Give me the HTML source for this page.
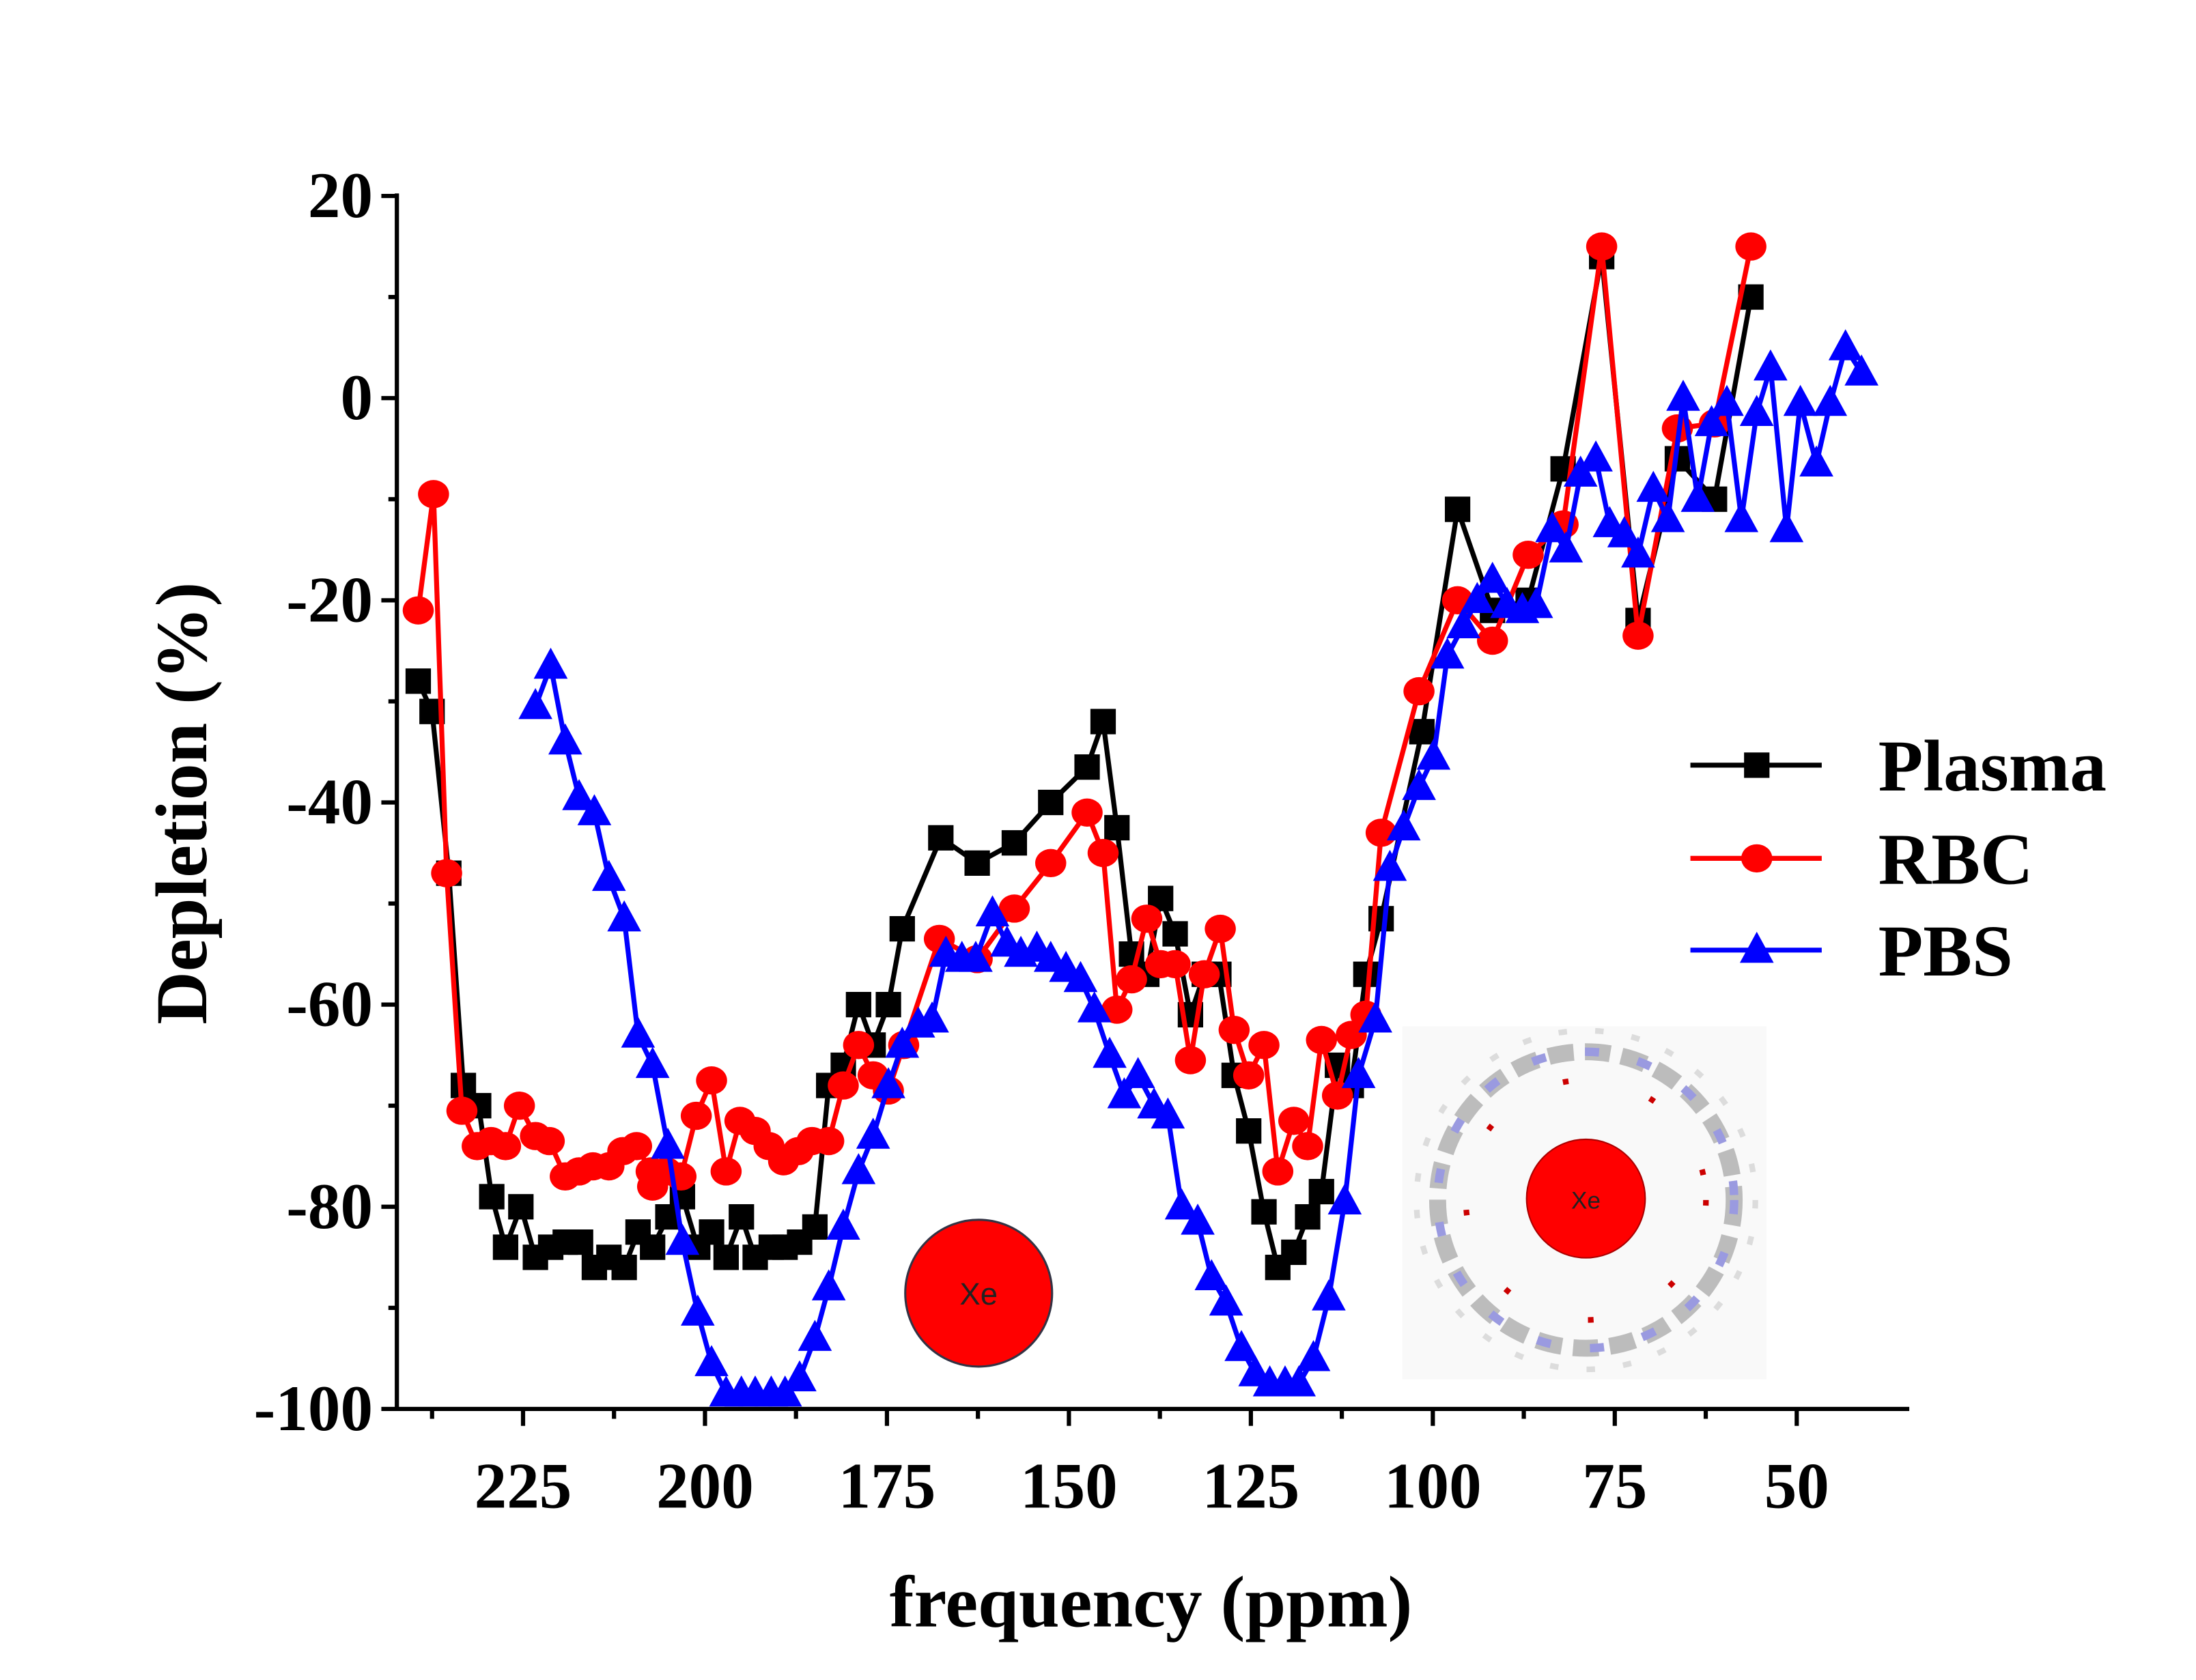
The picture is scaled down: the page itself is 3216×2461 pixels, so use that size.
<!DOCTYPE html>
<html><head><meta charset="utf-8"><style>
html,body{margin:0;padding:0;background:#fff;}
svg{display:block;}
text{font-family:"Liberation Serif",serif;font-weight:bold;}
</style></head><body>
<svg id="chart" width="3216" height="2461" viewBox="0 0 1555 1190" xmlns="http://www.w3.org/2000/svg">
<rect width="1555" height="1190" fill="#fff"/>
<g id="inset">
  <rect x="993" y="727" width="258" height="250" fill="#f9f9f9"/>
  <circle cx="1123" cy="850" r="105" fill="none" stroke="#bcbcbc" stroke-width="12" stroke-dasharray="18 8"/>
  <circle cx="1123" cy="850" r="105" fill="none" stroke="#9a9ae0" stroke-width="6" stroke-dasharray="10 28"/>
  <circle cx="1123" cy="850" r="120" fill="none" stroke="#dcdcdc" stroke-width="4" stroke-dasharray="6 20"/>
  <circle cx="1123" cy="850" r="85" fill="none" stroke="#c00" stroke-width="4" stroke-dasharray="4 60"/>
  <circle cx="1123" cy="849" r="42" fill="#f00" stroke="#a00" stroke-width="1"/>
  <text x="1123" y="856" text-anchor="middle" font-size="17" style="font-family:'Liberation Sans',sans-serif;font-weight:normal" fill="#222">Xe</text>
</g>
<g>
  <circle cx="693" cy="916" r="52" fill="#f00" stroke="#334" stroke-width="1.5"/>
  <text x="693" y="924" text-anchor="middle" font-size="22" style="font-family:'Liberation Sans',sans-serif;font-weight:normal" fill="#222">Xe</text>
</g>
<g id="axes"></g>
<g id="series"></g>
<g id="legend"></g>
</svg>
<script>
const plasmaX=[239.4,237.5,235.2,233.2,231.1,229.3,227.4,225.3,223.3,221.2,219.2,217.1,215.2,213.2,211.1,209.2,207.2,205.1,203.1,201.0,199.1,197.1,195.0,193.1,190.9,189.0,187.0,184.9,183.0,181.0,178.9,176.9,174.8,172.9,167.6,162.6,157.5,152.5,147.5,145.3,143.4,141.4,139.3,137.4,135.4,133.3,131.4,129.4,127.3,125.3,123.2,121.3,119.1,117.2,115.3,113.1,111.2,109.2,107.1,101.5,96.6,91.8,86.9,82.1,76.8,71.8,66.4,61.3,56.3];
const plasmaY=[-28,-31,-47,-68,-70,-79,-84,-80,-85,-84,-83.5,-83.5,-86,-85,-86,-82.5,-84,-81,-79,-84,-82.5,-85,-81,-85,-84,-84,-83.5,-82,-68,-66,-60,-64,-60,-52.5,-43.5,-46,-44,-40,-36.5,-32,-42.5,-55,-57,-49.5,-53,-61,-57,-57,-67,-72.5,-80.5,-86,-84.5,-81,-78.5,-66,-68,-57,-51.5,-33,-11,-21,-20,-7,14,-22,-6,-10,10];
const rbcX=[239.4,237.3,235.5,233.4,231.3,229.4,227.4,225.5,223.3,221.4,219.2,217.3,215.4,213.2,211.3,209.4,207.4,207.2,205.3,203.3,201.2,199.1,197.1,195.2,193.1,191.2,189.2,187.2,185.3,183.0,181.0,178.9,176.9,174.8,172.7,167.8,162.6,157.5,152.5,147.5,145.3,143.4,141.4,139.3,137.4,135.4,133.3,131.4,129.2,127.3,125.3,123.2,121.3,119.1,117.2,115.3,113.1,111.2,109.2,107.1,101.9,96.6,91.8,86.9,82.1,76.8,71.8,66.4,61.3,56.3];
const rbcY=[-21,-9.5,-47,-70.5,-74,-73.5,-74,-70,-73,-73.5,-77,-76.5,-76,-76,-74.5,-74,-76.5,-78,-76.5,-77,-71,-67.5,-76.5,-71.5,-72.5,-74,-75.5,-74.5,-73.5,-73.5,-68,-64,-67,-68.5,-64,-53.5,-55.5,-50.5,-46,-41,-45,-60.5,-57.5,-51.5,-56,-56,-65.5,-57,-52.5,-62.5,-67,-64,-76.5,-71.5,-74,-63.5,-69,-63,-61,-43,-29,-20,-24,-15.5,-12.5,15,-23.5,-3,-2.5,15];
const pbsX=[223.3,221.2,219.2,217.3,215.2,213.2,211.1,209.2,207.2,205.1,203.1,201.0,199.1,197.1,195.0,193.1,190.9,189.0,187.0,184.9,183.0,181.0,178.9,176.9,174.8,172.9,170.7,168.8,166.9,164.7,162.8,160.5,158.5,156.6,154.4,152.5,150.4,148.4,146.5,144.4,142.4,140.5,138.3,136.4,134.5,132.3,130.4,128.4,126.3,124.4,122.4,120.3,118.4,116.4,114.3,112.1,110.2,107.9,105.9,104.0,101.9,99.9,98.0,95.8,93.9,91.8,89.8,87.7,85.8,83.6,81.7,79.7,77.6,75.7,73.7,71.8,69.7,67.7,65.6,63.6,61.7,59.6,57.6,55.5,53.6,51.4,49.5,47.3,45.4,43.3,41.1];
const pbsY=[-30.5,-26.5,-34,-39.5,-41,-47.5,-51.5,-63,-66,-74,-83.5,-90.5,-95.5,-98.5,-98.5,-98.5,-98.5,-98.5,-97,-93,-88,-82,-76.5,-73,-68,-64,-62,-61.5,-55,-55.5,-55.5,-51,-54,-55,-54.5,-55.5,-56.5,-57.5,-60.5,-65,-69,-67,-70,-71,-80,-81.5,-87,-89.5,-94,-96.5,-97.5,-97.5,-97.5,-95,-89,-79.5,-67,-61.5,-46.5,-42.5,-38.5,-35.5,-25.5,-22.5,-20,-18,-20.5,-21,-20.5,-13,-15,-7.5,-6,-12.5,-13.5,-15.5,-9,-12,0,-10,-2.5,-0.5,-12,-1.5,3,-13,-0.5,-6.5,-0.5,5,2.5];
const yTicks=[20,0,-20,-40,-60,-80,-100];
const xTicks=[225,200,175,150,125,100,75,50];
const xMinor=[237.5,212.5,187.5,162.5,137.5,112.5,87.5,62.5];
const yMinor=[10,-10,-30,-50,-70,-90];

const NS="http://www.w3.org/2000/svg";
const sx=p=>1530-5.154*p;
const sy=v=>282-7.16*v;
function mk(tag,attrs,parent){const e=document.createElementNS(NS,tag);for(const k in attrs)e.setAttribute(k,attrs[k]);parent.appendChild(e);return e;}
const axes=document.getElementById('axes');
const yl=mk('line',{x1:281,y1:137,x2:281,y2:999.5,stroke:'#000','stroke-width':3},axes);


const xl=mk('line',{x1:279.5,y1:998,x2:1352,y2:998,stroke:'#000','stroke-width':3},axes);


yTicks.forEach(v=>{
  mk('line',{x1:270,y1:sy(v),x2:281,y2:sy(v),stroke:'#000','stroke-width':3},axes);
  const t=mk('text',{x:264,y:sy(v)+15,'text-anchor':'end','font-size':46},axes);
  t.textContent=v;
  
  
});
yMinor.forEach(v=>mk('line',{x1:275,y1:sy(v),x2:281,y2:sy(v),stroke:'#000','stroke-width':3},axes));
xTicks.forEach(p=>{
  mk('line',{x1:sx(p),y1:998,x2:sx(p),y2:1010,stroke:'#000','stroke-width':3},axes);
  const t=mk('text',{x:sx(p),y:1068,'text-anchor':'middle','font-size':46},axes);
  t.textContent=p;
  
  
});
xMinor.forEach(p=>mk('line',{x1:sx(p),y1:998,x2:sx(p),y2:1005,stroke:'#000','stroke-width':3},axes));
const xt=mk('text',{x:815,y:1152,'text-anchor':'middle','font-size':52},axes);
xt.textContent='frequency (ppm)';


const yt=mk('text',{x:0,y:0,'text-anchor':'middle','font-size':52,transform:'translate(146,569) rotate(-90)'},axes);
yt.textContent='Depletion (%)';



function marker(type,x,y,color,g){
  if(type==='sq')return mk('rect',{x:x-9,y:y-9,width:18,height:18,fill:color},g);
  if(type==='ci')return mk('ellipse',{cx:x,cy:y,rx:11,ry:10,fill:color},g);
  return mk('polygon',{points:`${x},${y-13} ${x-12},${y+9} ${x+12},${y+9}`,fill:color},g);
}
const series=document.getElementById('series');
[[plasmaX,plasmaY,'#000','sq','plasma'],[rbcX,rbcY,'#f00','ci','rbc'],[pbsX,pbsY,'#00f','tr','pbs']].forEach(([X,Y,c,m,n])=>{
  const g=mk('g',{},series);
  
  
  const pl=mk('polyline',{points:X.map((p,i)=>sx(p)+','+sy(Y[i])).join(' '),fill:'none',stroke:c,'stroke-width':3.5,'stroke-linejoin':'round'},g);
  
  
  X.forEach((p,i)=>{
    const mkr=marker(m,sx(p),sy(Y[i]),c,g);
    
    
  });
});
const legend=document.getElementById('legend');
[['Plasma','#000','sq',542],['RBC','#f00','ci',608],['PBS','#00f','tr',673]].forEach(([name,c,m,y])=>{
  const g=mk('g',{},legend);
  
  
  mk('line',{x1:1197,y1:y,x2:1290,y2:y,stroke:c,'stroke-width':3.5},g);
  marker(m,1244,y,c,g);
  const t=mk('text',{x:1330,y:y+18,'font-size':52},g);
  t.textContent=name;
});
</script>
</body></html>
